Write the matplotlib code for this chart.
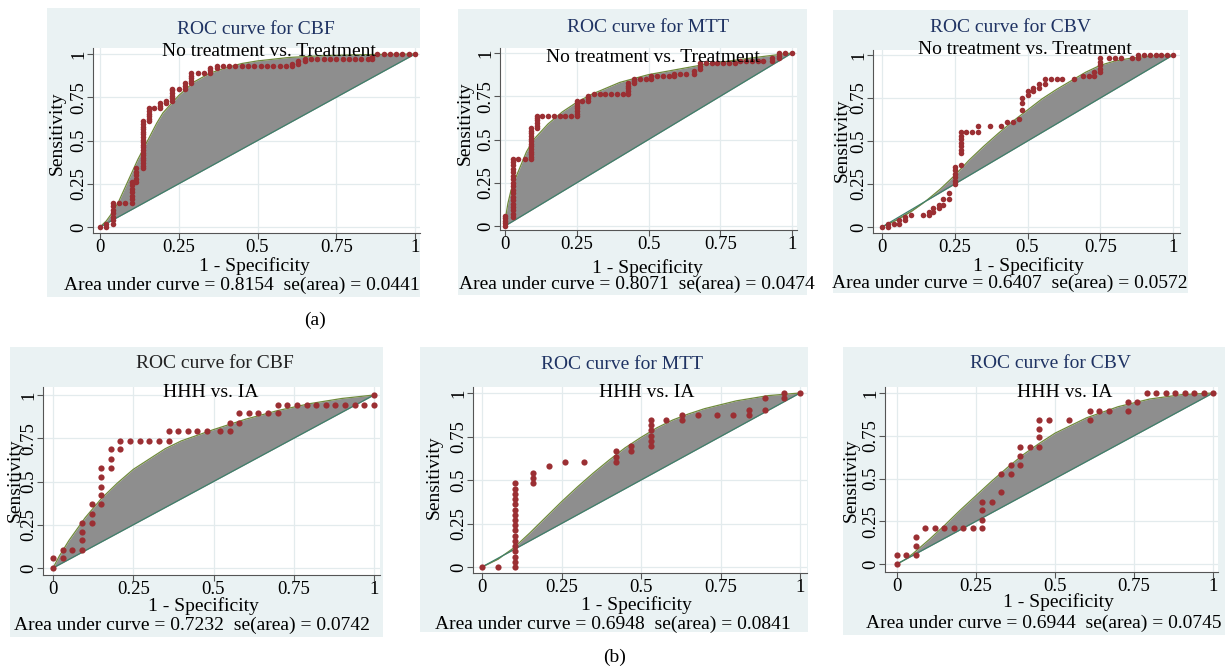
import matplotlib
matplotlib.use("Agg")
import matplotlib.pyplot as plt
from matplotlib.patches import Rectangle

plt.rcParams['font.family'] = ['Liberation Serif', 'DejaVu Serif']

# ---- data ----
# empirical ROC points, stored as columns: x position and the sensitivities in that column

# (a) CBF  no treatment vs. treatment
cbf_a_cols = [0, 0.02, 0.04, 0.06, 0.08, 0.10, 0.115, 0.135, 0.155, 0.17, 0.19, 0.21,
              0.23, 0.25, 0.27, 0.29, 0.31, 0.33, 0.35, 0.37,
              0.39, 0.41, 0.43, 0.45, 0.47, 0.49, 0.51, 0.53, 0.55, 0.57, 0.59,
              0.61, 0.63, 0.65,
              0.67, 0.69, 0.71, 0.73, 0.75, 0.77, 0.79, 0.81, 0.83, 0.85, 0.865,
              0.88, 0.90, 0.92, 0.94, 0.96, 0.98, 1.0]
cbf_a_sens = [[0], [0, 0.02], [0.02, 0.04, 0.06, 0.08, 0.10, 0.12, 0.14], [0.14], [0.14],
              [0.14, 0.16, 0.18, 0.20, 0.22, 0.24, 0.26], [0.26, 0.28, 0.30, 0.32, 0.34],
              [0.34, 0.355, 0.37, 0.385, 0.40, 0.415, 0.43, 0.445, 0.46, 0.475, 0.49,
               0.505, 0.52, 0.535, 0.55, 0.565, 0.58, 0.595, 0.61],
              [0.61, 0.625, 0.64, 0.655, 0.67, 0.685], [0.685], [0.685, 0.70, 0.715],
              [0.715, 0.73], [0.73, 0.745, 0.76, 0.775, 0.79, 0.80], [0.80],
              [0.80, 0.815, 0.83], [0.83, 0.845, 0.86, 0.875, 0.89], [0.89], [0.89],
              [0.89, 0.905, 0.92], [0.92, 0.93],
              [0.93], [0.93], [0.93], [0.93], [0.93], [0.93], [0.93], [0.93], [0.93], [0.93], [0.93],
              [0.93, 0.945], [0.945, 0.96], [0.96, 0.97],
              [0.97], [0.97], [0.97], [0.97], [0.97], [0.97], [0.97], [0.97], [0.97], [0.97],
              [0.97, 0.985],
              [1.0], [1.0], [1.0], [1.0], [1.0], [1.0], [1.0]]
cbf_a_fit_x = [0, 0.02, 0.04, 0.06, 0.08, 0.10, 0.12, 0.14, 0.16, 0.18, 0.20, 0.25, 0.30,
               0.35, 0.40, 0.45, 0.50, 0.60, 0.70, 0.80, 0.90, 1.0]
cbf_a_fit_y = [0, 0.035, 0.085, 0.15, 0.23, 0.31, 0.39, 0.46, 0.53, 0.60, 0.66, 0.76, 0.84,
               0.89, 0.92, 0.945, 0.96, 0.98, 0.99, 0.995, 0.998, 1.0]

# (a) MTT
mtt_a_cols = [0, 0.027, 0.047, 0.068, 0.09, 0.11,
              0.13, 0.15, 0.17, 0.19, 0.21, 0.23, 0.25, 0.27, 0.29,
              0.31, 0.33, 0.35, 0.37, 0.39, 0.41, 0.43, 0.45, 0.47, 0.49, 0.51,
              0.53, 0.55, 0.57, 0.59, 0.61, 0.63, 0.66, 0.68,
              0.70, 0.72, 0.74, 0.76, 0.78, 0.80,
              0.82, 0.84, 0.86, 0.88, 0.90, 0.93, 0.953, 0.977, 1.0]
mtt_a_sens = [[0, 0.015, 0.03, 0.045, 0.06],
              [0.05, 0.07, 0.09, 0.11, 0.13, 0.15, 0.17, 0.19, 0.21, 0.23, 0.25, 0.27,
               0.29, 0.31, 0.33, 0.35, 0.37, 0.385],
              [0.385], [0.385],
              [0.385, 0.40, 0.415, 0.43, 0.445, 0.46, 0.475, 0.49, 0.505, 0.52, 0.535, 0.55, 0.565],
              [0.565, 0.58, 0.595, 0.61, 0.625, 0.635],
              [0.635], [0.635], [0.635], [0.635], [0.635], [0.635],
              [0.635, 0.65, 0.665, 0.68, 0.695, 0.71, 0.725], [0.725], [0.725, 0.74, 0.75],
              [0.765], [0.765], [0.765], [0.765], [0.765], [0.765],
              [0.765, 0.78, 0.795, 0.81, 0.825], [0.825, 0.84, 0.85], [0.85], [0.85],
              [0.85, 0.865],
              [0.865], [0.865], [0.865], [0.865, 0.88], [0.88], [0.88], [0.88, 0.895],
              [0.91, 0.925, 0.94],
              [0.94], [0.94], [0.94], [0.94], [0.94], [0.94],
              [0.955], [0.955], [0.955], [0.955], [0.955], [0.955, 0.97],
              [0.97, 0.985, 1.0], [1.0], [1.0]]
mtt_a_fit_x = [0, 0.005, 0.01, 0.02, 0.03, 0.05, 0.075, 0.10, 0.15, 0.20, 0.25, 0.30,
               0.40, 0.50, 0.60, 0.70, 0.80, 0.90, 1.0]
mtt_a_fit_y = [0, 0.08, 0.13, 0.20, 0.25, 0.33, 0.43, 0.50, 0.59, 0.66, 0.715, 0.76,
               0.83, 0.875, 0.905, 0.935, 0.958, 0.98, 1.0]

# (a) CBV
cbv_a_cols = [0, 0.02, 0.04, 0.06, 0.08, 0.10, 0.14, 0.16, 0.175, 0.195, 0.21, 0.23,
              0.25, 0.27, 0.29, 0.31, 0.33, 0.37, 0.41, 0.43, 0.45, 0.47, 0.48,
              0.50, 0.52, 0.54, 0.56, 0.58, 0.60, 0.62, 0.66, 0.69, 0.71, 0.73, 0.75,
              0.78, 0.80, 0.82, 0.86, 0.88, 0.90, 0.92, 0.94, 0.96, 0.98, 1.0]
cbv_a_sens = [[0], [0, 0.02], [0.02], [0.02, 0.04], [0.04, 0.06], [0.07], [0.07],
              [0.07, 0.09], [0.09, 0.11], [0.11, 0.13], [0.13, 0.16], [0.16, 0.20],
              [0.25, 0.27, 0.29, 0.31, 0.33, 0.35],
              [0.36, 0.43, 0.45, 0.47, 0.49, 0.51, 0.53, 0.55],
              [0.55], [0.55], [0.55, 0.59], [0.59], [0.59], [0.61], [0.61], [0.63],
              [0.68, 0.72, 0.75],
              [0.77, 0.79], [0.79, 0.81], [0.81, 0.83], [0.83, 0.86], [0.86], [0.86],
              [0.86], [0.86], [0.88], [0.88], [0.88, 0.90],
              [0.90, 0.92, 0.94, 0.96, 0.98],
              [0.98], [0.98], [0.98], [0.98], [0.98, 1.0],
              [1.0], [1.0], [1.0], [1.0], [1.0], [1.0]]
cbv_a_fit_x = [0, 0.05, 0.10, 0.15, 0.20, 0.25, 0.30, 0.35, 0.40, 0.45, 0.50, 0.55,
               0.60, 0.65, 0.70, 0.75, 0.80, 0.85, 0.90, 0.95, 1.0]
cbv_a_fit_y = [0, 0.04, 0.09, 0.15, 0.22, 0.30, 0.39, 0.47, 0.545, 0.615, 0.68, 0.745,
               0.80, 0.85, 0.90, 0.94, 0.965, 0.98, 0.99, 0.997, 1.0]

# (b) CBF  HHH vs. IA
cbf_b_cols = [0, 0.03, 0.06, 0.09, 0.12, 0.15, 0.18, 0.21, 0.24, 0.27, 0.30, 0.33,
              0.36, 0.39, 0.42, 0.45, 0.48, 0.52, 0.55, 0.58, 0.61, 0.64, 0.67, 0.70,
              0.73, 0.76, 0.79, 0.82, 0.85, 0.88, 0.91, 0.94, 0.97, 1.0]
cbf_b_sens = [[0, 0.055], [0.055, 0.105], [0.105], [0.105, 0.16, 0.21, 0.26],
              [0.26, 0.315, 0.37], [0.37, 0.42, 0.47, 0.525, 0.58], [0.58, 0.63, 0.685],
              [0.685, 0.735], [0.735], [0.735], [0.735], [0.735], [0.735, 0.79],
              [0.79], [0.79], [0.79], [0.79], [0.79], [0.79, 0.84], [0.84, 0.895],
              [0.895], [0.895], [0.895], [0.895, 0.945],
              [0.945], [0.945], [0.945], [0.945], [0.945], [0.945], [0.945], [0.945],
              [0.945], [0.945, 1.0]]
cbf_b_fit_x = [0, 0.02, 0.05, 0.10, 0.15, 0.20, 0.25, 0.30, 0.35, 0.40, 0.50, 0.60,
               0.70, 0.80, 0.90, 1.0]
cbf_b_fit_y = [0, 0.07, 0.16, 0.29, 0.40, 0.49, 0.57, 0.63, 0.69, 0.735, 0.80, 0.86,
               0.91, 0.95, 0.98, 1.0]

# (b) MTT
mtt_b_cols = [0, 0.05, 0.105, 0.16, 0.21, 0.26, 0.32, 0.42, 0.47, 0.53, 0.58, 0.63,
              0.68, 0.74, 0.79, 0.84, 0.89, 0.95, 1.0]
mtt_b_sens = [[0], [0],
              [0, 0.03, 0.06, 0.09, 0.12, 0.15, 0.18, 0.21, 0.24, 0.27, 0.30, 0.33,
               0.36, 0.39, 0.42, 0.45, 0.48],
              [0.48, 0.51, 0.54], [0.58], [0.605], [0.605], [0.605, 0.635, 0.665],
              [0.665, 0.695], [0.695, 0.725, 0.755, 0.785, 0.815, 0.845], [0.845],
              [0.845, 0.875], [0.875], [0.875], [0.875], [0.875, 0.905], [0.905, 0.97],
              [0.97, 1.0], [1.0]]
mtt_b_fit_x = [0, 0.05, 0.10, 0.15, 0.20, 0.25, 0.30, 0.35, 0.40, 0.45, 0.50, 0.55,
               0.60, 0.65, 0.70, 0.80, 0.90, 1.0]
mtt_b_fit_y = [0, 0.045, 0.11, 0.195, 0.285, 0.375, 0.46, 0.54, 0.615, 0.685, 0.745,
               0.80, 0.845, 0.88, 0.91, 0.955, 0.985, 1.0]

# (b) CBV
cbv_b_cols = [0, 0.03, 0.06, 0.09, 0.12, 0.15, 0.18, 0.21, 0.24, 0.27, 0.30, 0.33,
              0.36, 0.39, 0.42, 0.45, 0.48, 0.545, 0.61, 0.64, 0.67, 0.73, 0.76,
              0.79, 0.82, 0.85, 0.88, 0.91, 0.94, 0.97, 1.0]
cbv_b_sens = [[0, 0.055], [0.055], [0.055, 0.105, 0.16], [0.21], [0.21], [0.21],
              [0.21], [0.21], [0.21], [0.21, 0.26, 0.315, 0.365], [0.365], [0.42, 0.525],
              [0.525, 0.58], [0.58, 0.63, 0.685], [0.685], [0.685, 0.74, 0.79, 0.845],
              [0.845], [0.845], [0.845, 0.895], [0.895], [0.895], [0.895, 0.95], [0.95],
              [1.0], [1.0], [1.0], [1.0], [1.0], [1.0], [1.0], [1.0]]
cbv_b_fit_x = [0, 0.025, 0.05, 0.10, 0.15, 0.20, 0.25, 0.30, 0.35, 0.40, 0.45, 0.50,
               0.60, 0.70, 0.80, 0.90, 1.0]
cbv_b_fit_y = [0, 0.025, 0.06, 0.14, 0.225, 0.315, 0.40, 0.485, 0.565, 0.64, 0.705,
               0.765, 0.855, 0.92, 0.965, 0.99, 1.0]

titles = ['ROC curve for CBF', 'ROC curve for MTT', 'ROC curve for CBV',
          'ROC curve for CBF', 'ROC curve for MTT', 'ROC curve for CBV']
subtitles = ['No treatment vs. Treatment'] * 3 + ['HHH vs. IA'] * 3
auc_text = ['Area under curve = 0.8154  se(area) = 0.0441',
            'Area under curve = 0.8071  se(area) = 0.0474',
            'Area under curve = 0.6407  se(area) = 0.0572',
            'Area under curve = 0.7232  se(area) = 0.0742',
            'Area under curve = 0.6948  se(area) = 0.0841',
            'Area under curve = 0.6944  se(area) = 0.0745']
tick_vals = [0, 0.25, 0.5, 0.75, 1]
tick_labels = ['0', '0.25', '0.5', '0.75', '1']

cols_all = [cbf_a_cols, mtt_a_cols, cbv_a_cols, cbf_b_cols, mtt_b_cols, cbv_b_cols]
sens_all = [cbf_a_sens, mtt_a_sens, cbv_a_sens, cbf_b_sens, mtt_b_sens, cbv_b_sens]
fitx_all = [cbf_a_fit_x, mtt_a_fit_x, cbv_a_fit_x, cbf_b_fit_x, mtt_b_fit_x, cbv_b_fit_x]
fity_all = [cbf_a_fit_y, mtt_a_fit_y, cbv_a_fit_y, cbf_b_fit_y, mtt_b_fit_y, cbv_b_fit_y]

# ---- layout in pixels (image coords, y downward) ----
bg_boxes = [(47, 8, 420, 297), (458, 9, 807, 295), (833, 10, 1188, 293),
            (10, 347, 383, 637), (420, 347, 808, 632), (843, 347, 1225, 635)]
plot_boxes = [(93, 48, 420, 233), (500, 48, 797, 230), (873, 50, 1180, 233),
              (43, 387, 380, 575), (473, 387, 807, 573), (885, 387, 1218, 572)]
x_px = [(100, 415), (505, 792), (882, 1173), (53, 374), (482, 800), (897, 1213)]
y_px = [(227, 54), (226, 53), (227, 55), (568, 395), (567, 393), (564, 393)]
title_pos = [(256, 30), (648, 28), (1010, 27), (215, 363), (622, 365), (1050, 363)]
sub_pos = [(269, 52), (653, 57), (1025, 50), (211, 393), (647, 393), (1065, 393)]
ylab_pos = [(57, 133), (465, 123), (842, 140), (15, 480), (434, 477), (851, 480)]
xlab_pos = [(254, 266), (647, 268), (1028, 266), (203, 606), (636, 605), (1058, 602)]
auc_pos = [(242, 285), (637, 284), (1010, 283), (192, 625), (613, 624), (1044, 623)]
title_colors = ['#1f3363', '#1f3363', '#1f3363', '#222222', '#1f3363', '#1f3363']

W, H = 1227, 668
BG = '#eaf2f3'
GRID = '#e3ebed'
DOT = '#9b2f33'
FILL = '#8e8e8e'
CURVE = '#6f8a3c'
DIAG = '#3f7f6a'

fig = plt.figure(figsize=(W / 100, H / 100), dpi=100)
fig.patch.set_facecolor('white')


def fy(py):
    return 1 - py / H


for i in range(6):
    # light blue graph region behind each panel
    bx0, by0, bx1, by1 = bg_boxes[i]
    fig.patches.append(Rectangle((bx0 / W, fy(by1)), (bx1 - bx0) / W, (by1 - by0) / H,
                                 transform=fig.transFigure, facecolor=BG,
                                 edgecolor='none', zorder=-5))

    L, T, R, B = plot_boxes[i]
    ax = fig.add_axes([L / W, fy(B), (R - L) / W, (B - T) / H])
    ax.set_facecolor('white')
    xa, xb = x_px[i]
    ya, yb = y_px[i]
    ax.set_xlim((L - xa) / (xb - xa), (R - xa) / (xb - xa))
    ax.set_ylim((ya - B) / (ya - yb), (ya - T) / (ya - yb))

    # fitted curve, shaded against the chance line
    fx_ = fitx_all[i]
    fy_ = fity_all[i]
    ax.fill_between(fx_, fx_, fy_, color=FILL, lw=0, zorder=2)
    ax.plot(fx_, fy_, color=CURVE, lw=0.9, zorder=2.5)
    ax.plot([0, 1], [0, 1], color=DIAG, lw=0.9, zorder=2.5)

    # empirical points
    xs, ys = [], []
    for c, svals in zip(cols_all[i], sens_all[i]):
        for s in svals:
            xs.append(c)
            ys.append(s)
    ax.scatter(xs, ys, s=16 if i < 3 else 20, color=DOT, lw=0, zorder=3, clip_on=False)

    ax.set_xticks(tick_vals)
    ax.set_xticklabels(tick_labels, fontsize=13.5)
    ax.set_yticks(tick_vals)
    ax.set_yticklabels(tick_labels, fontsize=13.5, rotation=90, va='center')
    ax.tick_params(axis='x', length=4, width=0.8, pad=0, color='#555555')
    ax.tick_params(axis='y', length=4, width=0.8, pad=0, color='#555555')
    ax.grid(True, color=GRID, lw=0.9, zorder=0)
    ax.set_axisbelow(True)
    for side in ['top', 'right']:
        ax.spines[side].set_visible(False)
    for side in ['left', 'bottom']:
        ax.spines[side].set_color('#555555')
        ax.spines[side].set_linewidth(0.8)

    tx, ty = title_pos[i]
    fig.text(tx / W, fy(ty), titles[i], fontsize=14, color=title_colors[i],
             ha='center', va='center')
    sx, sy = sub_pos[i]
    fig.text(sx / W, fy(sy), subtitles[i], fontsize=14, color='black',
             ha='center', va='center')
    lx, ly = ylab_pos[i]
    fig.text(lx / W, fy(ly), 'Sensitivity', fontsize=14, rotation=90,
             ha='center', va='center')
    xx, xy = xlab_pos[i]
    fig.text(xx / W, fy(xy), '1 - Specificity', fontsize=14, ha='center', va='center')
    axx, axy = auc_pos[i]
    fig.text(axx / W, fy(axy), auc_text[i], fontsize=14, ha='center', va='center')

fig.text(315 / W, fy(320), '(a)', fontsize=14, ha='center', va='center')
fig.text(615 / W, fy(657), '(b)', fontsize=14, ha='center', va='center')

fig.savefig('out.png', dpi=100, facecolor='white')
